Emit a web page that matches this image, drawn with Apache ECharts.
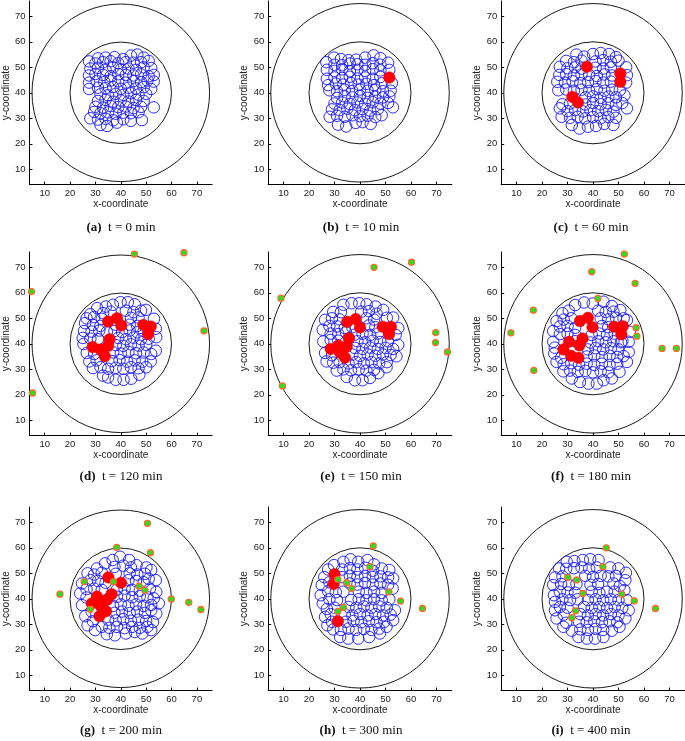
<!DOCTYPE html>
<html><head><meta charset="utf-8">
<script src="https://cdn.jsdelivr.net/npm/echarts@6/dist/echarts.min.js"></script>
<style>html,body{margin:0;padding:0;background:#fff}#c{width:685px;height:741px}</style>
</head><body><div id="c"></div>
<script>
// ---------- data ----------
const tickValues = [10, 20, 30, 40, 50, 60, 70];
const panelLabels = ['(a)', '(b)', '(c)', '(d)', '(e)', '(f)', '(g)', '(h)', '(i)'];
const panelTimes = ['t = 0 min', 't = 10 min', 't = 60 min', 't = 120 min', 't = 150 min', 't = 180 min', 't = 200 min', 't = 300 min', 't = 400 min'];
const ringCircles = [[40, 40, 20], [40, 40, 35]];

const blueA = [
[31,53.5],[34,53.8],[37.5,54],[41,53.2],[44,54.6],[46.5,55],[49,53.8],
[27.5,52.3],[30,51.5],[33,52],[36,52.4],[39,51.6],[42,52],[45,51.8],[48,52],[51,52.5],
[28,49.5],[31,49.8],[34,49],[37,50],[40,49.2],[43,49.5],[46,49],[49,50],[52,49.7],
[27.5,46.8],[30,47.4],[33,47],[36,46.5],[39,47.3],[42,47],[45,46.8],[48,47.2],[51,46.5],[53,47],
[27.5,44],[30.5,44.6],[33.5,44.2],[36,44.8],[39,44.5],[42,44],[45,44.6],[48,44.2],[50.5,44.8],[53,44.4],
[27.5,41.5],[31,42],[34,41.8],[37,42.3],[40,41.6],[43,42],[46,41.7],[49,42.2],[52,41.5],
[32,39.4],[35,39],[38,39.6],[41,39.2],[44,39.8],[47,39.3],[50,39.6],
[31,36.8],[34,37.2],[37,36.5],[40,37],[43,36.6],[46,37.2],[49,36.8],
[30,34.5],[33,34.2],[36,34.8],[39,34.4],[42,34.6],[45,34],[48,34.5],[53,34.3],
[29.5,32.5],[32,32],[35,32.3],[38,31.8],[41,32.2],[44,32],[47,32.4],
[28,30],[31,29.5],[34,29.8],[37,29.2],[41,29.6],[44,29],
[32,27.4],[34.6,27],[38.5,28.3],[48.3,29.3]
];
const blueB = [
[29.8,53.8],[32.5,53.2],[35.5,52.8],[38.5,53],[42,53.8],[45.3,54.7],[48,53.6],
[26.8,52],[30,51],[33,50.8],[36,51.5],[39,51.2],[42,51],[45,51.6],[48,51],[51,51.8],
[27,49],[30,48.6],[33,49.2],[36,48.5],[39,49],[42,48.6],[45,49.3],[48,48.8],[51.5,49],
[27,45.5],[30,46],[33,45.8],[36,46.3],[39,45.6],[42,46],[45,45.5],[48,46.2],
[27.5,43],[30.5,43.6],[33.5,43.2],[36.5,43.8],[39.5,43.2],[42.5,43.5],[45.5,43],[48.5,43.7],[52.5,43.8],
[28,41],[31,40.6],[34,41.2],[37,40.7],[40,41.3],[43,40.8],[46,41.2],[49,40.6],[52,40.8],
[31,38],[34,38.6],[37,38.2],[40,38.8],[43,38],[46,38.5],[49,38.2],[51.5,38.6],
[30,35.8],[33,36.2],[36,35.6],[39,36.2],[42,35.7],[45,36.3],[48,35.8],[51,36],
[29,33.5],[32,33.2],[35,33.8],[38,33.2],[41,33.6],[44,33],[47,33.6],[52.9,34.3],
[28.1,30.6],[31,31],[34,30.6],[37,31.2],[40,30.8],[43,31],[46,30.5],[48.5,31.2],
[31.4,27.5],[34.6,26.8],[38.3,28.2],[41,28.5],[44.2,27.8]
];
const blueC = [
[33.5,55],[36.5,54.2],[40,55.2],[43,55.6],[46.3,55.2],[49,54],
[29.5,52.5],[32.5,52],[35.5,52.6],[41,52.3],[44,52.8],[47,52.2],[50,52.6],
[27,50.2],[30,49.6],[33,50],[35.5,49.5],[41,49.8],[44,49.5],[47,50],[53,50],
[26.8,47],[29.5,47.3],[32.5,46.8],[35.5,47.2],[38.5,47],[41.5,46.6],[44.5,47.2],[47.5,46.8],[53.3,46.9],
[26,44.3],[29,44],[32,44.5],[35,43.8],[38,44.2],[41,44.6],[44,44],[47,44.4],[53,44],
[26.4,41],[29.5,41.3],[32.5,40.8],[35.5,41.2],[38.5,40.7],[41.5,41.4],[44.5,40.8],[47.5,41.2],[50.5,41],
[37,38.2],[40,38.6],[43,38],[46,38.5],[49,38.2],[52.3,39],
[28,35.5],[31,35.8],[37,35.4],[40,36],[43,35.5],[46,35.9],[49,35.3],[51.5,36],
[27,33.9],[30,32.8],[33,33.2],[36,32.7],[39,33.2],[42,32.8],[45,33.3],[48,32.6],[53.3,33.9],
[27.7,30.6],[31,30.2],[34,30.6],[37,30],[40,30.5],[43,30],[46,30.5],[49,30.2],
[31.7,27.4],[34.7,26],[38,26.7],[41.2,27],[44.4,27.8],[48,27.4]
];
const blueD = [
[34.1,54.6],[36.9,55.3],[39.9,56.3],[42.8,56.3],[45.5,55.5],
[28,51.6],[30.7,54],[33,52],[36,52.6],[42,53],[45,52.4],[48,53],[49.9,53.3],
[26.5,50],[29.5,50.5],[32.5,49.8],[44,50.2],[47,50.3],[53.1,49.8],
[25.9,48.1],[29,47.4],[32,47],[38,47.5],[43.5,47.5],[46.5,47],[53.8,45.9],
[25.5,45],[28.5,44.8],[31.5,45.2],[34.5,44.6],[37.5,45],[40.5,44.6],[43.5,45.2],[46.5,44.5],[49,45],
[25,42.3],[28,42],[31,41.8],[39,42.3],[42,41.8],[45,42.4],[48,41.8],[51,42],[54,42.6],
[25.3,39.9],[38,39.5],[41,39.2],[44,39.8],[47,39.3],[50,39.6],[53.8,37.3],
[26.6,36.4],[29.5,36],[37,36.6],[40,36.2],[43,36.8],[46,36.3],[49,36.6],[52,36],
[27.6,33.1],[30.5,33.5],[36.5,33.2],[39.5,33.6],[42.5,33],[45.5,33.5],[48.5,33],[51.8,33.1],
[29,30.5],[32,30.8],[35,30.2],[38,30.6],[41,30.2],[44,30.8],[47,30.4],[50,30.8],
[33,27.5],[35,26.8],[38,25.9],[41.1,25.9],[44.1,26.3],[47.3,27.9]
];
const blueE = [
[33.5,55.3],[36.7,55.9],[39.7,55.9],[42.6,55.5],[46.1,54.6],
[29.5,52.5],[32.5,52.4],[40.5,52.6],[43.5,52.8],[46.5,51.8],[49.1,53.3],
[26.3,49.4],[29,50],[32,49.6],[42.5,50],[45.5,49.5],[53,50.3],[50.5,50.2],
[25.4,45.5],[28,47],[31,46.8],[34,46.2],[37,46.5],[43.5,47.2],[46,46.5],[55,46.1],
[28.5,44],[31.5,43.8],[34.5,44.5],[38,43.6],[41,44],[44,43.5],[47,44],[54,43.5],
[25.6,40.9],[28.5,41.5],[31.5,41.2],[39,41],[42,40.6],[45,41.2],[48,40.7],[51,41],[55,39.6],
[38,38.4],[41,38],[44,38.5],[47,38],[50,38.4],[53,38],
[26.3,36.4],[29,35.5],[37,35.8],[40,35.3],[43,35.8],[46,35.3],[49,35.8],[52,35.6],[54.3,35.1],
[26.9,33.1],[29.5,32.6],[32,32.8],[35.5,32.3],[38.5,32.8],[41.5,32.3],[44.5,32.8],[47.5,32.3],[50.5,32.8],
[30.9,29.5],[33.5,30],[36.5,29.6],[39.5,30],[42.5,29.5],[45.5,29.8],[50.4,30.8],
[34.8,27],[38,25.7],[41,25.7],[43.9,26.6],[47.2,28.5]
];
const blueF = [
[33,55.2],[36.5,56.2],[39.9,55.8],[44.1,56.5],[47.4,54.8],
[28,52],[30.5,53],[42,53],[45,52.5],[48,52.6],[50.7,53.2],
[25.7,48.9],[28.5,49.5],[31.5,50],[43,50],[46,49.6],[49,50.2],[52,50],[53.3,49.3],
[24.4,45],[27,46.8],[30,47],[33,46.3],[43.5,47],[46,46.5],[54.4,44.7],
[27,43.8],[30,44],[33,43.5],[39.5,43.5],[42.5,44],[45.5,43.5],[48.5,44],[51.5,41],
[24.4,40.8],[33,41],[39,40.5],[42,41],[45,40.6],[48,41],[51,40.6],[54,40.8],
[38,37.8],[41,38.3],[44,37.8],[47,38.3],[50,37.8],[54,36.8],[25,38.5],
[24.8,36.2],[27.5,34.5],[37.5,35],[40.5,35.4],[43.5,34.8],[46.5,35.3],[49.5,34.8],[52,35.2],
[25.7,32.9],[28.5,32],[31.5,32.4],[34.5,31.8],[37.5,32.2],[40.5,31.7],[43.5,32.2],[46.5,31.7],[49.5,32.2],[53.3,32.9],
[28.4,29.2],[31,29.5],[34,29],[37,29.4],[40,28.8],[43,29.2],[46,28.8],[50.4,29],
[31.7,26.4],[34.9,25],[38.2,24.4],[41.5,24.4],[44.1,25.7],[47.4,26.4]
];
const blueG = [
[36.8,55.2],[39.7,56.5],[43.3,55.2],
[30.6,51.9],[33.8,53.9],[37.5,52.5],[41,53],[44,52.3],[46.2,53.2],[50.1,52.3],
[26.9,50],[29.5,49.5],[32.5,50.2],[38,49.8],[43.5,50],[46.5,49.5],[49.5,49.8],[52,51.3],
[24.7,46],[28,47.3],[31,47],[34,46.3],[43,47.3],[46,47],[49,46.5],[53.8,47.3],[51,47.8],
[26.5,43.8],[29.5,44],[32.5,43.5],[38.5,43.6],[41.5,44],[44.5,43.5],[47.5,43.2],[51.5,44],[54,42.7],
[24,42.1],[26.5,40.5],[38.5,40.8],[41.5,41.2],[44.5,40.6],[47.5,41],[50.5,40.6],[53,40.2],
[24.7,37.5],[37,37.2],[40,37.8],[43,37.3],[46,37.8],[49,37.2],[52,37.6],[55,38.2],
[26,33.2],[28.5,35],[37.5,34.5],[40.5,35],[43.5,34.4],[46.5,35],[49.5,34.5],[54,34.2],[52,35.5],
[26.9,29.6],[29,31.2],[35,31.8],[38,31.5],[41,32],[44,31.4],[47,31.8],[50,31.3],[52.7,30.9],
[29.9,27.7],[32.5,29],[35.5,28.6],[38.5,29],[41.5,28.5],[44.5,29],[47.5,28.6],[50.5,29],
[34.5,26.1],[37.7,25.7],[42,26.4],[45.5,27],[48.5,26.4],[52,27.7]
];
const blueH = [
[33.5,54.5],[36.3,55.5],[39.3,54.5],[42.9,55.2],[45.5,53.5],
[27.5,51.5],[29.8,53.2],[33,51.5],[36,52],[39,51.5],[42,52.2],[45,51],[48.5,51.9],[51.5,51.3],
[26,48.5],[33,48.5],[36,49],[39,48.5],[42,49],[45,48.5],[48,48.8],[51,48.4],[53,48],
[25,45.4],[28,46.5],[36,46],[39,45.6],[42,46.2],[45,45.6],[48,46],[51,45.5],
[24.6,41.4],[27.5,43],[30.5,42.6],[33.5,42.8],[39.5,42.8],[42.5,42.3],[45.5,42.8],[48.5,42.3],[52.8,44],
[28,39.8],[31,39.5],[36.5,39.5],[39.5,39.8],[42.5,39.4],[45.5,39.8],[48.5,39.4],[51.5,39.8],
[25.4,38.2],[27,36],[30,36.5],[35.5,36.8],[38.5,36.5],[41.5,37],[44.5,36.5],[47.5,37],[50.5,36.5],[53.7,35.5],
[26.3,32.9],[28.5,34],[34,34],[37,33.5],[40,34],[43,33.5],[46,34],[49,33.5],[52,33.8],
[27.2,29.6],[29,31],[34.5,31],[37.5,31.3],[40.5,30.8],[43.5,31.2],[46.5,30.8],[49.5,31],[53,31.6],
[29.5,28],[32.5,27.8],[35.5,28.3],[38.5,27.8],[41.5,28.2],[44.5,27.8],[47.5,28.3],[50.4,29],
[32.2,25],[35.4,24.4],[39.3,24.4],[43.6,25],[47.8,26.4]
];
const blueI = [
[29.7,54.5],[32.7,54.8],[36,55.2],[38.9,55.5],[42.2,55.2],
[26.7,51.9],[29.5,51.8],[32.5,52],[35.5,52.3],[38.5,51.8],[41.5,52.3],[46.7,52.3],[50,51.9],
[25.1,48.4],[28,48.8],[37,49],[40,48.6],[43,49],[46,48.8],[49,49],[52.9,50.2],
[24.4,45.4],[27.5,45.8],[30.5,45.4],[33.5,45.8],[39,45.5],[42,45.8],[48,46],[52.7,47.3],[50.5,45],
[27,42.8],[30,42.5],[33,42.4],[39.5,42.8],[42.5,42.3],[45.5,42.8],[48.5,42.8],[52.3,43.4],
[24.7,41.4],[28,39.8],[31,39.5],[34,39.8],[38,39.5],[41,39.8],[44,39.4],[47,39.8],[50,39.5],[53.3,39.5],
[25.1,38.8],[27,36.8],[30,36.5],[36.5,36.8],[39.5,36.4],[42.5,36.8],[45.5,36.4],[48.5,36.8],[51.5,36.4],
[25.1,35.5],[28.5,33.8],[35,34],[38,33.5],[41,34],[44,33.5],[47,34],[50,33.5],[54,35.5],
[25.7,32.3],[29.5,30.6],[34.5,31],[37.5,30.8],[40.5,31.2],[43.5,30.8],[46.5,31.2],[49.5,30.8],[52.7,32.3],
[28.4,29],[31.7,27.5],[35,28],[38,27.8],[41,28.2],[44,27.8],[47.4,27.5],[50.4,29],
[34.3,25],[37.6,24.4],[40.8,24.4],[44.1,25]
];

const redA = [];
const redB = [[51.5,46]];
const redC = [[37.6,50.2],[50.7,47.6],[50.7,44.3],[31.9,38.4],[34.1,36.2]];
const redD = [[35,48.7],[38.5,50],[40.2,47.2],[48.9,47.4],[51.8,46.8],[50.8,43.8],[35.6,41.8],[28.9,38.7],[32,37.8],[35,39.2],[33.7,35.1]];
const redE = [[35,48.6],[38.3,49.7],[40,46.4],[48.9,46.7],[52.1,46.7],[51.4,43.8],[35.7,42.2],[28.5,38],[31.5,39.3],[34.8,38.9],[32.2,36.5],[34.1,34.6]];
const redF = [[34.9,48.9],[38,50.2],[39.8,46.5],[48.3,46.7],[51.7,46.9],[51.1,43.7],[35.9,42.1],[30.6,40.8],[28.4,37.8],[34.7,39.4],[31.4,35.3],[34.3,34.5]];
const redG = [[35.1,48.4],[40.1,46.3],[36.4,41.8],[34.7,39.7],[30.6,40.9],[28.6,38.2],[31.9,37.5],[34.2,35.1],[31.6,33.2]];
const redH = [[30,49.6],[29.7,45.8],[31.3,31.2]];
const redI = [];

const greenA = [];
const greenB = [];
const greenC = [];
const greenD = [[45.4,75.2],[64.9,75.7],[4.8,60.5],[5.2,20.7],[72.8,45.1]];
const greenE = [[45.5,70],[60.2,72],[9,57.9],[9.6,23.5],[69.7,44.4],[69.6,40.5],[74.3,36.8]];
const greenF = [[52.3,75.2],[39.5,68.3],[56.5,63.7],[41.9,57.8],[16.6,53.2],[7.8,44.3],[16.8,29.6],[56.9,46.3],[57.2,43],[67.1,38.2],[72.7,38.2]];
const greenG = [[50.5,69.6],[38.4,60.2],[51.7,58.1],[16,41.8],[25.6,46.7],[37.1,46.7],[47.2,45],[49.5,43.4],[59.9,39.9],[66.8,38.6],[71.6,35.8],[28,35.9]];
const greenH = [[45.2,60.7],[43.9,52.6],[34.8,46.3],[36.7,44],[31.3,47.6],[51.3,42.7],[55.9,39.1],[64.5,36.2],[33.5,36.6],[31.3,35.1]];
const greenI = [[45.2,60],[43.9,52.6],[30.1,48.4],[33.6,47.4],[36,42.1],[51.3,41.8],[56.2,39.2],[64.5,36.2],[33.2,35.3],[31.7,32.6]];

// ---------- layout / style ----------
const blues = [blueA, blueB, blueC, blueD, blueE, blueF, blueG, blueH, blueI];
const reds = [redA, redB, redC, redD, redE, redF, redG, redH, redI];
const greens = [greenA, greenB, greenC, greenD, greenE, greenF, greenG, greenH, greenI];

const colLeft = [28.5, 268.2, 501.2];
const rowTop = [1, 252, 507];
const plotSize = 183.6;
const capX = [121, 361, 591];
const capY = [228, 476.5, 730.5];
const sansFont = '"Liberation Sans", Arial, Helvetica, sans-serif';
const serifFont = '"Liberation Serif", "Times New Roman", Times, serif';

const grids = [], xAxes = [], yAxes = [], series = [], graphics = [];
for (let i = 0; i < 9; i++) {
  const c = i % 3, r = Math.floor(i / 3);
  grids.push({ left: colLeft[c], top: rowTop[r], width: plotSize, height: plotSize, containLabel: false });
  const axisCommon = {
    gridIndex: i, type: 'value', min: 4, max: 76,
    nameLocation: 'middle',
    nameTextStyle: { fontFamily: sansFont, fontSize: 10, color: '#222' },
    axisLine: { show: true, lineStyle: { color: '#000', width: 1 } },
    axisTick: { show: true, inside: true, length: 3, lineStyle: { color: '#000', width: 1 }, customValues: tickValues },
    axisLabel: { fontFamily: sansFont, fontSize: 9.5, color: '#222', margin: 4, customValues: tickValues },
    splitLine: { show: false }
  };
  xAxes.push(Object.assign({}, axisCommon, { name: 'x-coordinate', nameGap: 15, position: 'bottom' }));
  yAxes.push(Object.assign({}, axisCommon, { name: 'y-coordinate', nameGap: 15, position: 'left' }));

  series.push({
    type: 'custom', xAxisIndex: i, yAxisIndex: i, silent: true, clip: false,
    data: ringCircles,
    renderItem: function (params, api) {
      const ctr = api.coord([api.value(0), api.value(1)]);
      const rad = api.size([api.value(2), 0])[0];
      return { type: 'circle', shape: { cx: ctr[0], cy: ctr[1], r: rad },
               style: { fill: 'none', stroke: '#1a1a1a', lineWidth: 1 } };
    }
  });
  series.push({
    type: 'scatter', xAxisIndex: i, yAxisIndex: i, silent: true,
    data: blues[i], symbol: 'circle', symbolSize: 11.5,
    itemStyle: { color: 'rgba(0,0,0,0)', borderColor: '#1414ff', borderWidth: 0.9, opacity: 1 }
  });
  series.push({
    type: 'scatter', xAxisIndex: i, yAxisIndex: i, silent: true,
    data: reds[i], symbol: 'circle', symbolSize: 11.5,
    itemStyle: { color: '#ff0000', borderColor: '#e00000', borderWidth: 0.5, opacity: 1 }
  });
  series.push({
    type: 'scatter', xAxisIndex: i, yAxisIndex: i, silent: true,
    data: greens[i], symbol: 'circle', symbolSize: 6,
    itemStyle: { color: '#1ee61e', borderColor: '#ff6a2a', borderWidth: 1.3, opacity: 1 }
  });

  graphics.push({
    type: 'text', x: capX[c], y: capY[r], silent: true,
    style: {
      text: '{b|' + panelLabels[i] + '}  ' + panelTimes[i],
      fontFamily: serifFont, fontSize: 13, fill: '#111',
      align: 'center', verticalAlign: 'middle',
      rich: { b: { fontFamily: serifFont, fontSize: 13, fontWeight: 'bold', fill: '#111' } }
    }
  });
}

const chart = echarts.init(document.getElementById('c'), null, { renderer: 'canvas' });
chart.setOption({
  animation: false,
  backgroundColor: '#fff',
  grid: grids, xAxis: xAxes, yAxis: yAxes, series: series,
  graphic: graphics
});
</script></body></html>
